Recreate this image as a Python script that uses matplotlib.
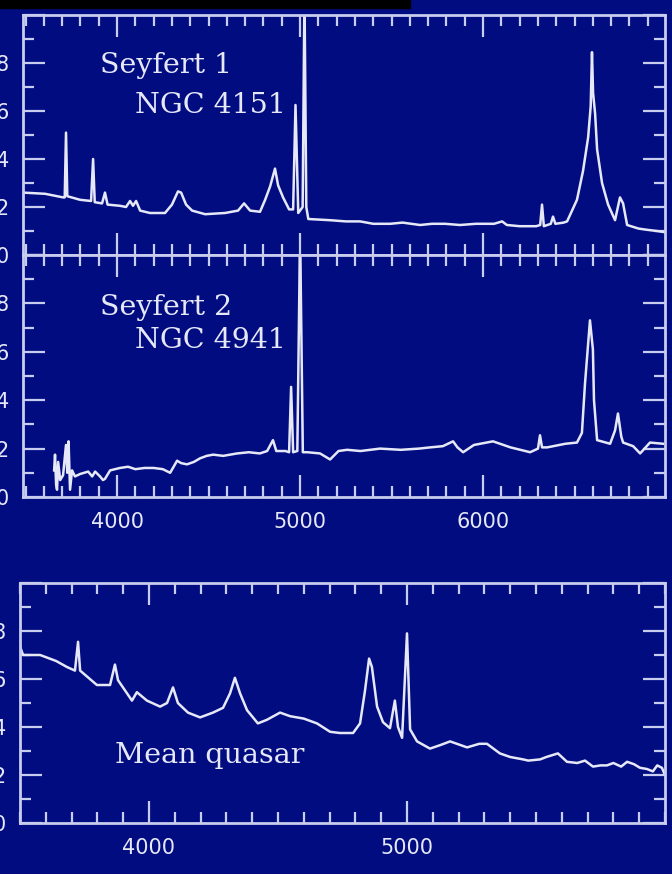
import numpy as np
import matplotlib
matplotlib.use("Agg")
import matplotlib.pyplot as plt
from matplotlib.patches import Rectangle
from matplotlib.ticker import MultipleLocator

# Seyfert 1, NGC 4151 (wavelength in A, flux)
sy1_wl = [3486, 3607, 3705, 3714, 3721, 3728, 3798, 3858, 3869, 3878,
          3918, 3934, 3948, 4016, 4049, 4071, 4087, 4104, 4126, 4180,
          4262, 4300, 4333, 4350, 4377, 4410, 4481, 4590, 4661, 4694,
          4727, 4781, 4809, 4836, 4863, 4880, 4907, 4940, 4962, 4975,
          4990, 5014, 5024, 5034, 5045, 5164, 5250, 5328, 5400, 5492,
          5560, 5656, 5720, 5792, 5874, 5960, 6060, 6104, 6130, 6200,
          6290, 6312, 6322, 6332, 6370, 6382, 6395, 6440, 6459, 6513,
          6546, 6574, 6588, 6595, 6601, 6612, 6623, 6650, 6683, 6721,
          6748, 6765, 6787, 6850, 6896, 6950, 6994]
sy1_flux = [2.6, 2.55, 2.4, 2.4, 5.1, 2.45, 2.3, 2.25, 4.0, 2.2,
            2.15, 2.6, 2.1, 2.05, 2.0, 2.25, 2.05, 2.25, 1.85, 1.75,
            1.75, 2.1, 2.65, 2.6, 2.1, 1.85, 1.7, 1.75, 1.85, 2.15,
            1.85, 1.8, 2.3, 2.85, 3.6, 2.9, 2.4, 1.9, 1.9, 6.25,
            1.75, 2.0, 11.0, 2.0, 1.5, 1.45, 1.4, 1.4, 1.3, 1.3,
            1.35, 1.25, 1.3, 1.3, 1.25, 1.3, 1.3, 1.4, 1.25, 1.2,
            1.2, 1.25, 2.1, 1.2, 1.3, 1.6, 1.3, 1.35, 1.4, 2.3,
            3.5, 4.9, 6.2, 8.45, 6.75, 5.9, 4.4, 3.0, 2.1, 1.45,
            2.4, 2.15, 1.25, 1.1, 1.05, 1.0, 0.95]

# Seyfert 2, NGC 4941
sy2_wl = [3656, 3661, 3667, 3672, 3678, 3689, 3705, 3721, 3728, 3735,
          3743, 3754, 3770, 3798, 3842, 3864, 3880, 3907, 3923, 3934,
          3962, 3989, 4016, 4060, 4100, 4150, 4200, 4250, 4290, 4328,
          4350, 4382, 4420, 4454, 4490, 4525, 4580, 4656, 4720, 4780,
          4820, 4852, 4870, 4920, 4940, 4951, 4962, 4985, 5000, 5015,
          5040, 5109, 5164, 5210, 5257, 5330, 5437, 5550, 5650, 5710,
          5780, 5836, 5860, 5891, 5950, 6054, 6150, 6257, 6300, 6311,
          6322, 6350, 6450, 6513, 6540, 6557, 6584, 6600, 6606, 6623,
          6694, 6721, 6737, 6755, 6765, 6820, 6858, 6912, 6983]
sy2_flux = [1.1, 1.75, 0.5, 0.3, 1.45, 0.7, 0.9, 2.15, 1.0, 2.3,
            0.3, 1.1, 0.85, 0.95, 1.05, 0.85, 1.05, 0.85, 0.7, 0.75,
            1.1, 1.15, 1.2, 1.25, 1.15, 1.2, 1.2, 1.15, 1.0, 1.5,
            1.4, 1.35, 1.45, 1.6, 1.7, 1.75, 1.7, 1.8, 1.85, 1.8,
            1.9, 2.35, 1.9, 1.9, 1.85, 4.55, 1.85, 1.9, 11.0, 1.85,
            1.85, 1.8, 1.55, 1.9, 1.95, 1.9, 2.0, 1.95, 2.0, 2.05,
            2.1, 2.3, 2.05, 1.85, 2.15, 2.3, 2.05, 1.85, 2.0, 2.55,
            2.05, 2.05, 2.2, 2.25, 2.65, 4.7, 7.3, 6.1, 4.0, 2.35,
            2.2, 2.75, 3.45, 2.5, 2.25, 2.1, 1.8, 2.25, 2.2]

# Mean quasar
qso_wl = [3500, 3512, 3578, 3640, 3682, 3713, 3725, 3733, 3798, 3849,
          3868, 3880, 3934, 3953, 3992, 4043, 4070, 4093, 4112, 4151,
          4198, 4248, 4287, 4314, 4333, 4353, 4380, 4422, 4457, 4508,
          4547, 4600, 4651, 4702, 4740, 4791, 4818, 4837, 4853, 4864,
          4884, 4907, 4934, 4953, 4965, 4981, 5000, 5012, 5039, 5089,
          5130, 5167, 5233, 5280, 5310, 5360, 5400, 5450, 5470, 5516,
          5540, 5585, 5620, 5660, 5690, 5721, 5750, 5775, 5800, 5830,
          5853, 5880, 5903, 5930, 5953, 5970, 5988, 6000]
qso_flux = [7.35, 7.0, 7.0, 6.75, 6.5, 6.35, 7.55, 6.35, 5.75, 5.75,
            6.6, 5.95, 5.1, 5.45, 5.1, 4.85, 5.0, 5.65, 5.0, 4.6,
            4.4, 4.6, 4.8, 5.4, 6.05, 5.4, 4.7, 4.15, 4.3, 4.6,
            4.45, 4.35, 4.15, 3.8, 3.75, 3.75, 4.15, 5.5, 6.85, 6.5,
            4.85, 4.2, 3.95, 5.1, 4.0, 3.55, 7.9, 3.9, 3.4, 3.1,
            3.25, 3.4, 3.15, 3.3, 3.3, 2.9, 2.75, 2.65, 2.6, 2.65,
            2.75, 2.9, 2.55, 2.5, 2.6, 2.35, 2.4, 2.4, 2.5, 2.35,
            2.55, 2.45, 2.3, 2.25, 2.15, 2.4, 2.3, 2.0]

y_ticks = [0, 2, 4, 6, 8, 10]
y_labels = ['0', '2', '4', '6', '8', '']

BG = '#000C80'
FG = '#E6E8F8'
FRAME = '#C8CCEE'

W, H = 672, 874
fig = plt.figure(figsize=(W / 100, H / 100), dpi=100, facecolor=BG)


def px_axes(l, t, r, b):
    return fig.add_axes([l / W, 1 - b / H, (r - l) / W, (b - t) / H])


def style(ax, xlo, xhi, show_x):
    ax.set_facecolor(BG)
    ax.set_xlim(xlo, xhi)
    ax.set_ylim(0, 10)
    for s in ax.spines.values():
        s.set_color(FRAME)
        s.set_linewidth(2)
    ax.xaxis.set_major_locator(MultipleLocator(1000))
    ax.xaxis.set_minor_locator(MultipleLocator(100))
    ax.set_yticks(y_ticks, y_labels)
    ax.yaxis.set_minor_locator(MultipleLocator(1))
    ax.tick_params(which='both', direction='in', top=True, right=True,
                   color=FRAME, width=1.6, labelcolor=FG)
    ax.tick_params(which='major', length=16)
    ax.tick_params(which='minor', length=8)
    ax.tick_params(axis='x', labelsize=15, pad=11, labelbottom=show_x)
    ax.tick_params(axis='y', labelsize=15, pad=10)


ax1 = px_axes(23, 15, 665, 255)
ax2 = px_axes(23, 255, 665, 497)
ax3 = px_axes(20, 583, 665, 823)

style(ax1, 3486, 6994, False)
style(ax2, 3486, 6994, True)
style(ax3, 3500, 6000, True)
ax2.set_xticks([4000, 5000, 6000])
ax3.set_xticks([4000, 5000])

ax1.plot(sy1_wl, sy1_flux, color=FG, lw=1.8)
ax2.plot(sy2_wl, sy2_flux, color=FG, lw=1.8)
ax3.plot(qso_wl, qso_flux, color=FG, lw=1.8)

tkw = dict(color=FG, fontsize=20.5, family='DejaVu Serif', va='baseline')
ax1.text(0.12, 0.758, 'Seyfert 1', transform=ax1.transAxes, **tkw)
ax1.text(0.174, 0.592, 'NGC 4151', transform=ax1.transAxes, **tkw)
ax2.text(0.12, 0.752, 'Seyfert 2', transform=ax2.transAxes, **tkw)
ax2.text(0.174, 0.616, 'NGC 4941', transform=ax2.transAxes, **tkw)
ax3.text(0.147, 0.25, 'Mean quasar', transform=ax3.transAxes, **tkw)

# black strip along the top edge
fig.add_artist(Rectangle((0, 1 - 8 / H), 410 / W, 8 / H,
                         transform=fig.transFigure, color='black'))

fig.savefig('out.png', dpi=100, facecolor=BG)
